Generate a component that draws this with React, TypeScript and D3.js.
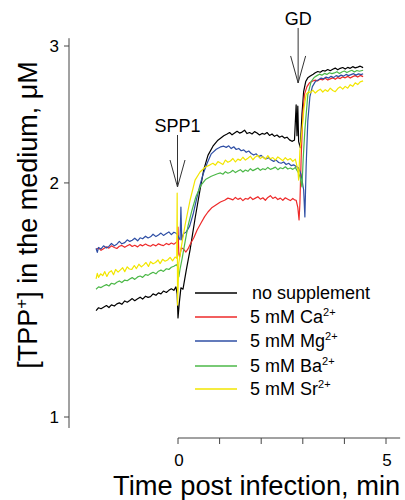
import React from "react";
import * as d3 from "d3";

type Pt = [number, number];

const noSupplement: Pt[] = [
  [-1.97,1.370],[-1.91,1.382],[-1.85,1.378],[-1.79,1.384],[-1.72,1.391],[-1.66,1.383],[-1.6,1.394],[-1.53,1.389],[-1.47,1.398],[-1.41,1.402],[-1.35,1.396],[-1.28,1.410],[-1.22,1.405],[-1.16,1.412],[-1.1,1.420],[-1.04,1.411],[-0.97,1.419],[-0.91,1.426],[-0.85,1.418],[-0.78,1.430],[-0.72,1.425],[-0.66,1.428],[-0.6,1.440],[-0.53,1.434],[-0.47,1.444],[-0.41,1.440],[-0.35,1.452],[-0.28,1.446],[-0.22,1.455],[-0.16,1.462],[-0.1,1.455],[-0.05,1.470],
  [-0.02,1.44],[0.0,1.341],[0.03,1.40],[0.07,1.466],[0.12,1.46],[0.2,1.546],[0.29,1.64],[0.41,1.80],[0.53,1.96],[0.62,2.08],[0.72,2.17],[0.84,2.23],[0.96,2.27],[1.1,2.30],
  [1.18,2.312],[1.24,2.322],[1.3,2.306],[1.36,2.318],[1.42,2.33],[1.48,2.318],[1.54,2.325],[1.6,2.338],[1.66,2.315],[1.72,2.322],[1.78,2.312],[1.84,2.328],[1.9,2.318],[1.96,2.305],[2.02,2.316],[2.08,2.31],[2.14,2.322],[2.2,2.302],[2.26,2.312],[2.32,2.296],[2.38,2.305],[2.44,2.29],[2.5,2.298],[2.56,2.284],[2.62,2.29],[2.68,2.272],[2.74,2.262],[2.78,2.268],
  [2.8,2.27],[2.84,2.52],[2.86,2.30],[2.88,2.51],[2.9,2.26],[2.94,2.22],[2.98,2.45],[3.02,2.62],[3.07,2.70],[3.12,2.73],[3.18,2.745],[3.25,2.76],
  [3.3,2.772],[3.36,2.782],[3.42,2.776],[3.48,2.79],[3.54,2.785],[3.6,2.798],[3.66,2.788],[3.72,2.80],[3.78,2.81],[3.84,2.796],[3.9,2.808],[3.96,2.815],[4.02,2.802],[4.08,2.816],[4.14,2.808],[4.2,2.822],[4.26,2.812],[4.32,2.818],[4.38,2.826],[4.45,2.814],
];

const calcium: Pt[] = [
  [-1.97,1.642],[-1.91,1.650],[-1.85,1.638],[-1.79,1.646],[-1.72,1.655],[-1.66,1.649],[-1.6,1.660],[-1.53,1.652],[-1.47,1.647],[-1.41,1.658],[-1.35,1.662],[-1.28,1.653],[-1.22,1.660],[-1.16,1.667],[-1.1,1.657],[-1.04,1.663],[-0.97,1.655],[-0.91,1.666],[-0.85,1.660],[-0.78,1.669],[-0.72,1.662],[-0.66,1.658],[-0.6,1.667],[-0.53,1.660],[-0.47,1.670],[-0.41,1.665],[-0.35,1.661],[-0.28,1.672],[-0.22,1.666],[-0.16,1.674],[-0.1,1.668],[-0.05,1.676],
  [-0.02,1.68],[0.0,1.755],[0.02,1.62],[0.04,1.606],[0.08,1.65],[0.13,1.645],[0.19,1.63],[0.24,1.645],[0.3,1.67],[0.38,1.70],[0.46,1.74],[0.55,1.775],[0.64,1.81],[0.72,1.835],[0.82,1.86],[0.92,1.875],[1.02,1.89],[1.12,1.90],[1.2,1.912],
  [1.26,1.908],[1.32,1.902],[1.38,1.916],[1.44,1.905],[1.5,1.912],[1.56,1.898],[1.62,1.91],[1.68,1.906],[1.74,1.918],[1.8,1.904],[1.86,1.912],[1.92,1.92],[1.98,1.906],[2.04,1.914],[2.1,1.9],[2.16,1.916],[2.22,1.926],[2.28,1.91],[2.34,1.918],[2.4,1.904],[2.46,1.912],[2.52,1.9],[2.58,1.914],[2.64,1.906],[2.7,1.898],[2.76,1.91],[2.8,1.902],
  [2.84,1.90],[2.88,1.86],[2.91,1.792],[2.93,1.88],[2.96,2.15],[3.0,2.45],[3.04,2.60],[3.1,2.66],[3.16,2.69],[3.24,2.705],
  [3.3,2.712],[3.36,2.706],[3.42,2.72],[3.48,2.714],[3.54,2.726],[3.6,2.712],[3.66,2.722],[3.72,2.73],[3.78,2.718],[3.84,2.732],[3.9,2.724],[3.96,2.738],[4.02,2.73],[4.08,2.742],[4.14,2.728],[4.2,2.74],[4.26,2.748],[4.32,2.736],[4.38,2.75],[4.45,2.74],
];

const magnesium: Pt[] = [
  [-1.97,1.648],[-1.94,1.628],[-1.91,1.652],[-1.85,1.645],[-1.79,1.660],[-1.72,1.650],[-1.66,1.657],[-1.6,1.672],[-1.53,1.660],[-1.47,1.668],[-1.41,1.682],[-1.35,1.670],[-1.28,1.676],[-1.22,1.690],[-1.16,1.682],[-1.1,1.688],[-1.04,1.698],[-0.97,1.685],[-0.91,1.700],[-0.85,1.695],[-0.78,1.708],[-0.72,1.699],[-0.66,1.705],[-0.6,1.718],[-0.53,1.706],[-0.47,1.714],[-0.41,1.724],[-0.35,1.712],[-0.28,1.722],[-0.22,1.730],[-0.16,1.716],[-0.1,1.728],[-0.03,1.722],
  [0.02,1.70],[0.05,1.69],[0.07,1.862],[0.09,1.69],[0.13,1.72],[0.2,1.73],[0.28,1.76],[0.36,1.82],[0.44,1.90],[0.52,1.98],[0.6,2.05],[0.7,2.12],[0.8,2.18],[0.92,2.21],[1.02,2.225],[1.1,2.23],
  [1.16,2.222],[1.22,2.232],[1.28,2.214],[1.34,2.226],[1.4,2.208],[1.46,2.215],[1.52,2.2],[1.58,2.206],[1.64,2.19],[1.7,2.198],[1.76,2.182],[1.82,2.172],[1.88,2.18],[1.94,2.162],[2.0,2.17],[2.06,2.155],[2.12,2.148],[2.18,2.155],[2.24,2.14],[2.3,2.132],[2.36,2.14],[2.42,2.125],[2.48,2.12],[2.54,2.128],[2.6,2.112],[2.66,2.12],[2.72,2.105],[2.78,2.11],[2.84,2.1],
  [2.9,2.09],[2.96,2.05],[3.02,1.96],[3.05,1.808],[3.08,2.10],[3.12,2.40],[3.17,2.58],[3.23,2.66],[3.3,2.70],[3.38,2.715],
  [3.44,2.728],[3.5,2.722],[3.56,2.736],[3.62,2.728],[3.68,2.742],[3.74,2.732],[3.8,2.748],[3.86,2.74],[3.92,2.752],[3.98,2.744],[4.04,2.758],[4.1,2.748],[4.16,2.756],[4.22,2.764],[4.28,2.752],[4.34,2.762],[4.4,2.756],[4.45,2.764],
];

const barium: Pt[] = [
  [-1.97,1.460],[-1.91,1.470],[-1.85,1.467],[-1.79,1.474],[-1.72,1.480],[-1.66,1.474],[-1.6,1.486],[-1.53,1.482],[-1.47,1.490],[-1.41,1.496],[-1.35,1.489],[-1.28,1.500],[-1.22,1.497],[-1.16,1.505],[-1.1,1.511],[-1.04,1.503],[-0.97,1.514],[-0.91,1.518],[-0.85,1.512],[-0.78,1.525],[-0.72,1.521],[-0.66,1.529],[-0.6,1.535],[-0.53,1.528],[-0.47,1.540],[-0.41,1.545],[-0.35,1.539],[-0.28,1.551],[-0.22,1.548],[-0.16,1.558],[-0.1,1.563],[-0.04,1.570],
  [0.0,1.56],[0.02,1.514],[0.05,1.55],[0.1,1.60],[0.17,1.68],[0.24,1.76],[0.33,1.84],[0.43,1.92],[0.55,1.985],[0.66,2.02],[0.8,2.04],[0.95,2.055],
  [1.02,2.06],[1.08,2.052],[1.14,2.068],[1.2,2.058],[1.26,2.064],[1.32,2.076],[1.38,2.062],[1.44,2.072],[1.5,2.08],[1.56,2.066],[1.62,2.078],[1.68,2.07],[1.74,2.086],[1.8,2.074],[1.86,2.082],[1.92,2.09],[1.98,2.076],[2.04,2.086],[2.1,2.08],[2.16,2.094],[2.22,2.082],[2.28,2.088],[2.34,2.096],[2.4,2.08],[2.46,2.092],[2.52,2.086],[2.58,2.098],[2.64,2.084],[2.7,2.09],[2.76,2.082],[2.82,2.094],[2.86,2.076],
  [2.9,2.06],[2.94,2.03],[2.98,1.976],[3.01,2.15],[3.05,2.339],[3.12,2.595],[3.2,2.70],[3.28,2.735],
  [3.34,2.748],[3.4,2.76],[3.46,2.752],[3.52,2.766],[3.58,2.758],[3.64,2.772],[3.7,2.764],[3.76,2.77],[3.82,2.78],[3.88,2.766],[3.94,2.778],[4.0,2.786],[4.06,2.774],[4.12,2.784],[4.18,2.792],[4.24,2.778],[4.3,2.79],[4.36,2.784],[4.45,2.792],
];

const strontium: Pt[] = [
  [-1.97,1.505],[-1.94,1.530],[-1.91,1.512],[-1.86,1.528],[-1.81,1.520],[-1.76,1.538],[-1.71,1.516],[-1.66,1.534],[-1.6,1.542],[-1.55,1.524],[-1.5,1.548],[-1.44,1.536],[-1.39,1.545],[-1.33,1.556],[-1.28,1.538],[-1.22,1.560],[-1.17,1.550],[-1.11,1.548],[-1.05,1.566],[-1.0,1.552],[-0.94,1.572],[-0.88,1.560],[-0.83,1.568],[-0.77,1.580],[-0.71,1.562],[-0.66,1.584],[-0.6,1.574],[-0.54,1.580],[-0.48,1.592],[-0.43,1.575],[-0.37,1.595],[-0.31,1.586],[-0.25,1.592],[-0.19,1.604],[-0.13,1.588],[-0.07,1.606],
  [-0.03,1.60],[-0.02,1.941],[-0.01,1.393],[0.02,1.58],[0.05,1.616],[0.1,1.68],[0.17,1.765],[0.29,1.90],[0.41,2.017],[0.53,2.066],[0.65,2.095],[0.77,2.11],
  [0.84,2.12],[0.9,2.108],[0.96,2.13],[1.02,2.122],[1.08,2.112],[1.14,2.14],[1.2,2.126],[1.26,2.134],[1.32,2.15],[1.38,2.128],[1.44,2.146],[1.5,2.138],[1.56,2.158],[1.62,2.14],[1.68,2.152],[1.74,2.165],[1.8,2.142],[1.86,2.16],[1.92,2.17],[1.98,2.15],[2.04,2.162],[2.1,2.145],[2.16,2.168],[2.22,2.148],[2.28,2.156],[2.34,2.14],[2.4,2.16],[2.46,2.148],[2.52,2.136],[2.58,2.155],[2.64,2.14],[2.7,2.15],[2.76,2.132],[2.82,2.146],
  [2.88,2.08],[2.9,2.017],[2.93,2.20],[2.98,2.339],[3.03,2.50],[3.08,2.60],[3.14,2.62],
  [3.18,2.612],[3.24,2.632],[3.3,2.61],[3.36,2.628],[3.42,2.64],[3.48,2.618],[3.54,2.636],[3.6,2.622],[3.66,2.648],[3.72,2.63],[3.78,2.62],[3.84,2.645],[3.9,2.658],[3.96,2.64],[4.02,2.662],[4.08,2.648],[4.14,2.675],[4.2,2.662],[4.26,2.69],[4.32,2.676],[4.38,2.698],[4.45,2.706],
];

const seriesNames = ["no supplement", "5 mM Ca", "5 mM Mg", "5 mM Ba", "5 mM Sr"];
const seriesSup = ["", "2+", "2+", "2+", "2+"];
const seriesColors = ["#000000", "#ee2a2a", "#2f4fa5", "#4cb848", "#f2e600"];
const seriesData = [noSupplement, calcium, magnesium, barium, strontium];

const yTicks = [1, 2, 3];
const xTicks = [0, 1, 2, 3, 4, 5];
const xTickLabels = ["0", "", "", "", "", "5"];

const annotations = [
  { label: "SPP1", t: 0, tipV: 1.976, len: 52, labelSize: 18 },
  { label: "GD", t: 2.9, tipV: 2.689, len: 55, labelSize: 18 },
];

const FONT = "'Liberation Sans', Arial, Helvetica, sans-serif";

export default function App() {
  const x = d3.scaleLinear().domain([0, 5]).range([178, 386]);
  const y = d3.scaleLog().domain([1, 3]).range([417, 46]);
  const line = d3
    .line<Pt>()
    .x((d) => x(d[0]))
    .y((d) => y(d[1]));

  const yAxisX = 69;
  const yTop = y(3.07);
  const yBottom = y(0.968);
  const xAxisY = 438;
  const xEnd = x(5.34);
  const axisColor = "#444";

  return (
    <svg
      width={405}
      height={500}
      style={{ position: "absolute", left: 0, top: 0, background: "#fff" }}
      fontFamily={FONT}
    >
      {/* Y axis */}
      <line x1={yAxisX} x2={yAxisX} y1={yTop} y2={yBottom} stroke={axisColor} strokeWidth={1} />
      {yTicks.map((v) => (
        <g key={v}>
          <line x1={yAxisX - 5} x2={yAxisX} y1={y(v)} y2={y(v)} stroke={axisColor} strokeWidth={1} />
          <text x={59} y={y(v) + 6} fontSize={17} textAnchor="end" fill="#000">
            {v}
          </text>
        </g>
      ))}

      {/* X axis */}
      <line x1={x(0)} x2={xEnd} y1={xAxisY} y2={xAxisY} stroke={axisColor} strokeWidth={1} />
      {xTicks.map((t, i) => (
        <g key={t}>
          <line x1={x(t)} x2={x(t)} y1={xAxisY} y2={xAxisY + 6} stroke={axisColor} strokeWidth={1} />
          {xTickLabels[i] && (
            <text x={x(t) + 1} y={466} fontSize={17} textAnchor="middle" fill="#000">
              {xTickLabels[i]}
            </text>
          )}
        </g>
      ))}

      {/* Axis titles */}
      <text x={113} y={495} fontSize={27.3} fill="#000">
        Time post infection, min
      </text>
      <text
        transform="translate(37,215) rotate(-90)"
        fontSize={27}
        textAnchor="middle"
        fill="#000"
      >
        [TPP
        <tspan fontSize={17} dy={-10}>+</tspan>
        <tspan dy={10}>] in the medium, μM</tspan>
      </text>

      {/* Data traces */}
      {seriesData.map((d, i) => (
        <path
          key={i}
          d={line(d) || ""}
          fill="none"
          stroke={seriesColors[i]}
          strokeWidth={1.2}
          strokeLinejoin="round"
        />
      ))}

      {/* Annotations */}
      {annotations.map((a) => {
        const ax = x(a.t) - 0.5;
        const tipY = y(a.tipV);
        const topY = tipY - a.len;
        return (
          <g key={a.label}>
            <line x1={ax} x2={ax} y1={topY} y2={tipY} stroke="#333" strokeWidth={1} />
            <polyline
              points={`${ax - 7.5},${tipY - 27} ${ax},${tipY} ${ax + 7.5},${tipY - 27}`}
              fill="none"
              stroke="#333"
              strokeWidth={1}
            />
            <text x={ax} y={topY - 3} fontSize={a.labelSize} textAnchor="middle" fill="#000">
              {a.label}
            </text>
          </g>
        );
      })}

      {/* Legend */}
      {seriesNames.map((name, i) => {
        const ly = [293, 317, 341, 366, 389][i];
        return (
          <g key={name}>
            <line x1={195} x2={237} y1={ly} y2={ly} stroke={seriesColors[i]} strokeWidth={1.4} />
            <text x={i === 0 ? 252 : 250} y={ly + 6} fontSize={18} fill="#000">
              {name}
              {seriesSup[i] && (
                <tspan fontSize={11} dy={-7}>
                  {seriesSup[i]}
                </tspan>
              )}
            </text>
          </g>
        );
      })}
    </svg>
  );
}
